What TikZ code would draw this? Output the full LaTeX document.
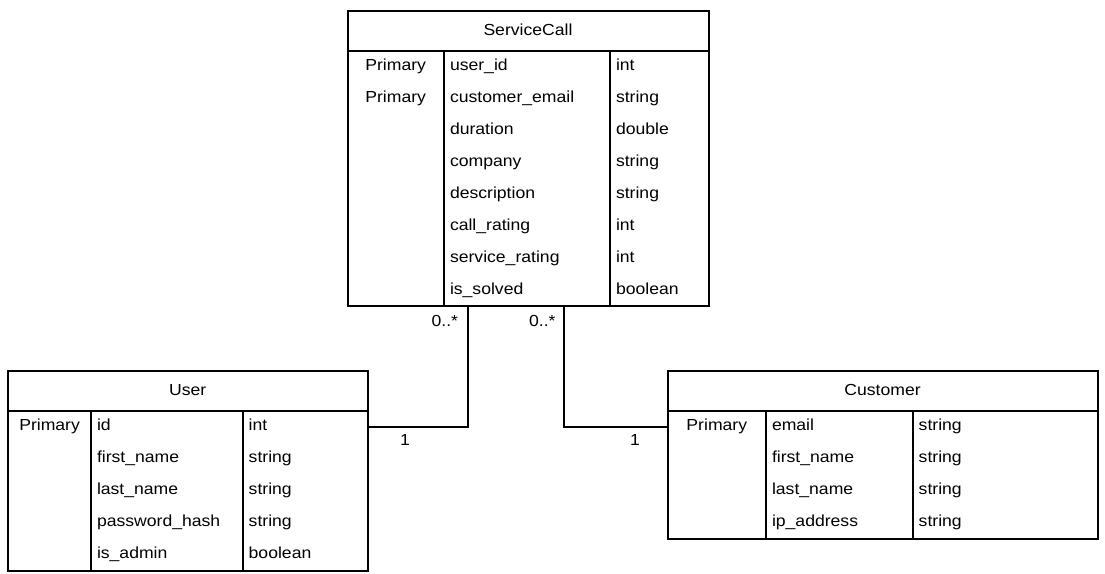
\documentclass[tikz,border=0pt]{standalone}
\usepackage{fontspec}
\setmainfont{Liberation Sans}[FakeStretch=1.1]
\usetikzlibrary{calc}
\begin{document}
\begin{tikzpicture}[x=1pt,y=-1pt,line width=2pt,
  tbl/.style={draw,line width=2pt,anchor=north west,inner sep=0pt,outer sep=0pt},
  txt/.style={inner sep=0pt,font=\fontsize{16}{19}\selectfont},
  conn/.style={draw,line width=2pt}]
\useasboundingbox (0,0) rectangle (1105,573);

% ServiceCall
\node[tbl,minimum width=361pt,minimum height=295pt] (svc) at (347.5,11) {};
\draw ($(svc.north west)+(0,39.7)$) -- ($(svc.north east)+(0,39.7)$);
\draw ($(svc.north west)+(96.5,39.7)$) -- ($(svc.south west)+(96.5,0)$);
\draw ($(svc.north west)+(262.5,39.7)$) -- ($(svc.south west)+(262.5,0)$);
\node[txt,anchor=base] (svc-h) at ($(svc.north)+(0,24.8)$) {ServiceCall};
\node[txt,anchor=base] (svc-k0) at (395.7,70) {Primary};
\node[txt,anchor=base] (svc-k1) at (395.7,102) {Primary};
\foreach \n/\t [count=\i from 0] in {user\_id/int,customer\_email/string,duration/double,company/string,description/string,call\_rating/int,service\_rating/int,is\_solved/boolean}{
  \node[txt,anchor=base west] (svc-n\i) at (449,70+32*\i) {\n};
  \node[txt,anchor=base west] (svc-t\i) at (615,70+32*\i) {\t};
}

% User
\node[tbl,minimum width=360.5pt,minimum height=200pt] (user) at (7.5,371) {};
\draw ($(user.north west)+(0,39.7)$) -- ($(user.north east)+(0,39.7)$);
\draw ($(user.north west)+(83.8,39.7)$) -- ($(user.south west)+(83.8,0)$);
\draw ($(user.north west)+(235.2,39.7)$) -- ($(user.south west)+(235.2,0)$);
\node[txt,anchor=base] (user-h) at ($(user.north)+(0,24.8)$) {User};
\node[txt,anchor=base] (user-k0) at (49.6,430) {Primary};
\foreach \n/\t [count=\i from 0] in {id/int,first\_name/string,last\_name/string,password\_hash/string,is\_admin/boolean}{
  \node[txt,anchor=base west] (user-n\i) at (96,430+32*\i) {\n};
  \node[txt,anchor=base west] (user-t\i) at (247.7,430+32*\i) {\t};
}

% Customer
\node[tbl,minimum width=430pt,minimum height=168pt] (cust) at (667.5,371) {};
\draw ($(cust.north west)+(0,39.7)$) -- ($(cust.north east)+(0,39.7)$);
\draw ($(cust.north west)+(98.5,39.7)$) -- ($(cust.south west)+(98.5,0)$);
\draw ($(cust.north west)+(245.2,39.7)$) -- ($(cust.south west)+(245.2,0)$);
\node[txt,anchor=base] (cust-h) at ($(cust.north)+(0,24.8)$) {Customer};
\node[txt,anchor=base] (cust-k0) at (716.8,430) {Primary};
\foreach \n/\t [count=\i from 0] in {email/string,first\_name/string,last\_name/string,ip\_address/string}{
  \node[txt,anchor=base west] (cust-n\i) at (771,430+32*\i) {\n};
  \node[txt,anchor=base west] (cust-t\i) at (917.7,430+32*\i) {\t};
}

% Connectors
\draw[conn] ($(svc.south west)+(120.2,0)$) |- ($(user.north east)+(0,55.7)$);
\draw[conn] ($(svc.south west)+(216.8,0)$) |- ($(cust.north west)+(0,55.7)$);
\node[txt,anchor=base east] (m1) at (459,326) {0..*};
\node[txt,anchor=base east] (m2) at (556.5,326) {0..*};
\node[txt,anchor=base] (o1) at (405,445.5) {1};
\node[txt,anchor=base] (o2) at (635,445.5) {1};
\end{tikzpicture}
\end{document}
